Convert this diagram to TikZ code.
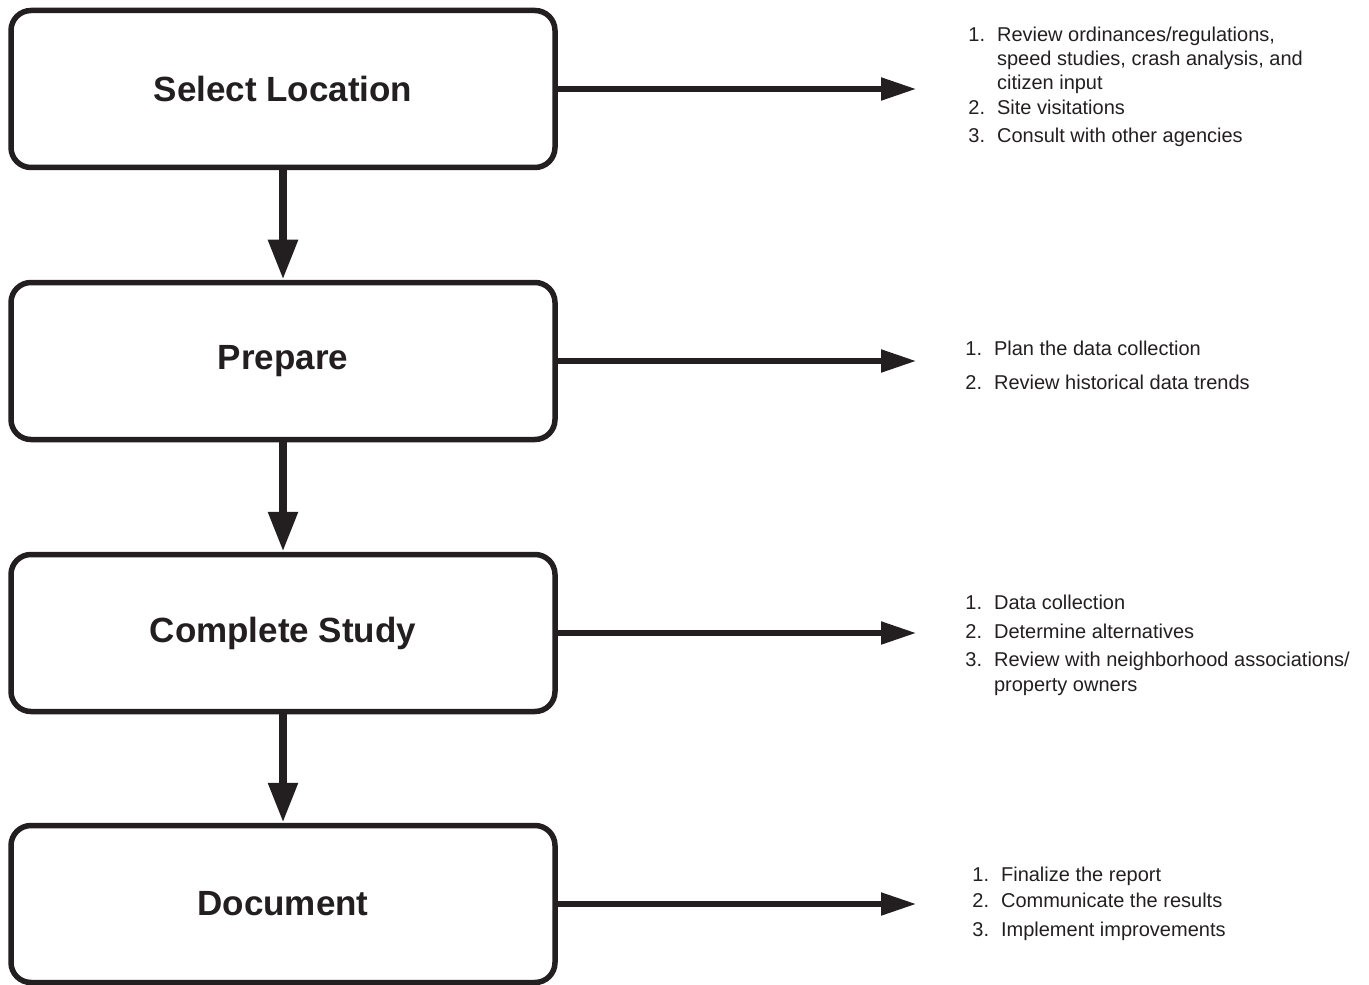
\documentclass[tikz,border=0pt]{standalone}
\usepackage{fontspec}
\setmainfont{Liberation Sans}
\usetikzlibrary{arrows.meta}
\definecolor{ink}{HTML}{231F20}
\tikzset{
  stage/.style={draw=ink,line width=2.75pt,rounded corners=10pt,
    minimum width=272pt,minimum height=78.5pt,text=ink,
    font=\fontsize{17.5}{21}\selectfont\bfseries},
  down/.style={draw=ink,line width=4.25pt,-{Triangle[length=20pt,width=14pt]}},
  side/.style={draw=ink,line width=2.6pt,-{Triangle[length=17.5pt,width=11pt]}},
  notes/.style={anchor=base west,inner sep=0pt,text=ink,
    font=\fontsize{10}{12}\selectfont}
}
\begin{document}
\begin{tikzpicture}[x=0.5pt,y=-0.5pt]
\useasboundingbox (0,0) rectangle (1369,984);
\node[stage] (select) at (283,89) {Select Location};
\node[stage] (prepare) at (283,361) {Prepare};
\node[stage] (study) at (283,633) {Complete Study};
\node[stage] (document) at (283,904) {Document};
\foreach \a/\b in {select/prepare,prepare/study,study/document}
	\draw[down] (\a) -- (\b);
\coordinate (select-end) at (916,89);
\coordinate (prepare-end) at (916,361);
\coordinate (study-end) at (916,633);
\coordinate (document-end) at (916,904);
\foreach \n in {select,prepare,study,document}
	\draw[side] (\n.east) -- (\n-end);
\node[notes] (select-notes) at (968,42) {\begin{tabular}[t]{@{}l@{\hspace{6pt}}l@{}}
1.&Review ordinances/regulations,\\
&speed studies, crash analysis, and\\
&citizen input\\[0.5pt]
2.&Site visitations\\[2pt]
3.&Consult with other agencies
\end{tabular}};
\node[notes] (prepare-notes) at (965,355) {\begin{tabular}[t]{@{}l@{\hspace{6pt}}l@{}}
1.&Plan the data collection\\[5pt]
2.&Review historical data trends
\end{tabular}};
\node[notes] (study-notes) at (965,609) {\begin{tabular}[t]{@{}l@{\hspace{6pt}}l@{}}
1.&Data collection\\[2.5pt]
2.&Determine alternatives\\[2pt]
3.&Review with neighborhood associations/\\[0.5pt]
&property owners
\end{tabular}};
\node[notes] (document-notes) at (972,881) {\begin{tabular}[t]{@{}l@{\hspace{6pt}}l@{}}
1.&Finalize the report\\[1pt]
2.&Communicate the results\\[2.5pt]
3.&Implement improvements
\end{tabular}};
\end{tikzpicture}
\end{document}
